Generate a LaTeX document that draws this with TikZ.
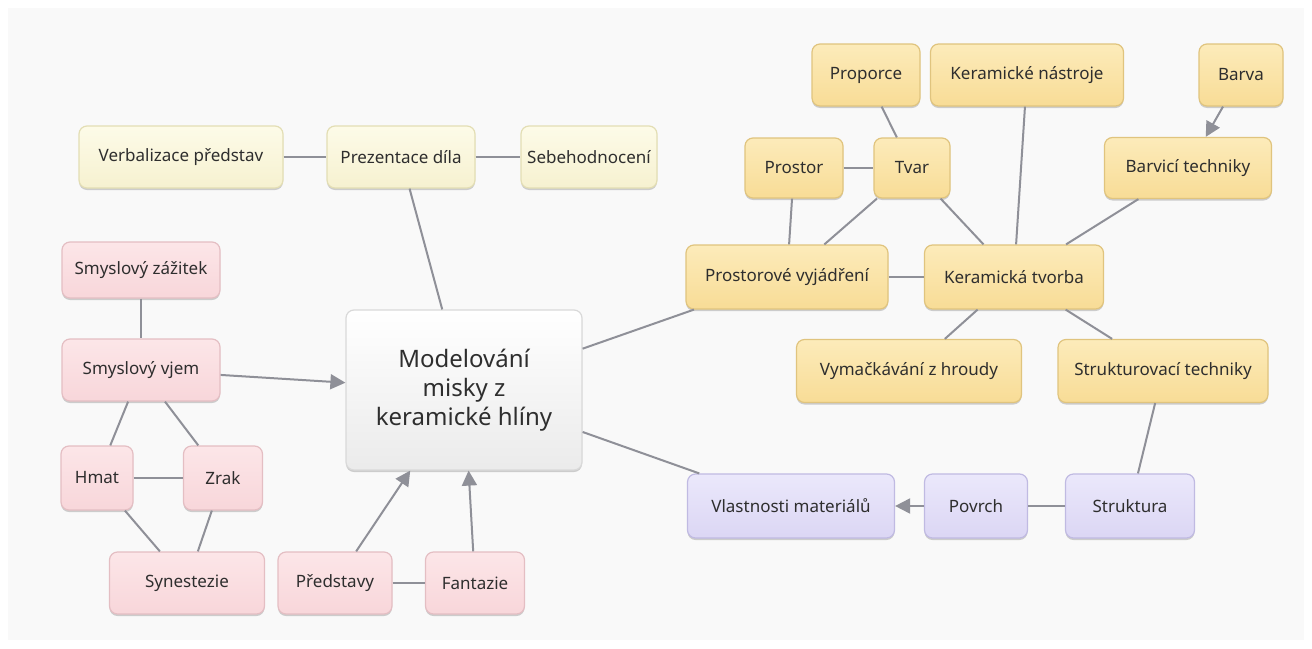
\documentclass[tikz,border=0pt]{standalone}
\usepackage{fontspec}
\setmainfont{Noto Sans}
\usetikzlibrary{arrows.meta,shadows}

\definecolor{linkgray}{HTML}{8F9098}
\definecolor{inktext}{HTML}{2E2E2E}
\definecolor{paletop}{HTML}{FDFBE8}
\definecolor{palebot}{HTML}{F6F1D0}
\definecolor{paleedge}{HTML}{E3DEB4}
\definecolor{goldtop}{HTML}{FCEBBA}
\definecolor{goldbot}{HTML}{F8DC96}
\definecolor{goldedge}{HTML}{E0C47E}
\definecolor{rosetop}{HTML}{FCE6E8}
\definecolor{rosebot}{HTML}{F8D6DA}
\definecolor{roseedge}{HTML}{E4BEC3}
\definecolor{lilactop}{HTML}{EBE8FB}
\definecolor{lilacbot}{HTML}{DBD6F4}
\definecolor{lilacedge}{HTML}{C0BAE2}

\tikzset{
  box/.style={draw, rounded corners=8pt, line width=1.2pt, minimum height=62pt,
    font=\fontsize{17}{20}\selectfont, text=inktext,
    drop shadow={shadow xshift=0pt, shadow yshift=-2pt, opacity=0.18, fill=black}},
  pale/.style={box, draw=paleedge, top color=paletop, bottom color=palebot},
  gold/.style={box, draw=goldedge, top color=goldtop, bottom color=goldbot},
  rose/.style={box, draw=roseedge, top color=rosetop, bottom color=rosebot},
  lilac/.style={box, draw=lilacedge, top color=lilactop, bottom color=lilacbot},
  hub/.style={box, draw=black!15, top color=white, bottom color=black!8,
    font=\fontsize{24}{29}\selectfont, align=center},
  link/.style={draw=linkgray, line width=2pt},
  flow/.style={link, -{Triangle[length=15pt,width=15pt]}}
}

\begin{document}
\begin{tikzpicture}[x=1pt,y=-1pt]
  \useasboundingbox (0,0) rectangle (1312,648);
  \fill [white] (0,0) rectangle (1312,648);
  \fill [black!2.5] (8,8) rectangle (1304,640);

  % centre
  \node [hub, minimum width=236pt, minimum height=160pt] (hub) at (464,390)
    {Modelování\\misky z\\keramické hlíny};

  % presentation row
  \node [pale, minimum width=204pt] (verbal) at (181,157) {Verbalizace představ};
  \node [pale, minimum width=148pt] (prez) at (401,157) {Prezentace díla};
  \node [pale, minimum width=136pt] (sebe) at (589,157) {Sebehodnocení};

  % senses
  \node [rose, minimum width=158pt, minimum height=56pt] (zazitek) at (141,270) {Smyslový zážitek};
  \node [rose, minimum width=158pt] (vjem) at (141,370) {Smyslový vjem};
  \node [rose, minimum width=72pt, minimum height=64pt] (hmat) at (97,478) {Hmat};
  \node [rose, minimum width=79pt, minimum height=64pt] (zrak) at (223,478) {Zrak};
  \node [rose, minimum width=155pt] (syn) at (187,583) {Synestezie};
  \node [rose, minimum width=114pt] (predst) at (335,583) {Představy};
  \node [rose, minimum width=99pt] (fant) at (475,583) {Fantazie};

  % material
  \node [lilac, minimum width=207pt, minimum height=64pt] (vlast) at (791,506) {Vlastnosti materiálů};
  \node [lilac, minimum width=103pt, minimum height=64pt] (povrch) at (976,506) {Povrch};
  \node [lilac, minimum width=129pt, minimum height=64pt] (strukt) at (1130,506) {Struktura};

  % ceramics
  \node [gold, minimum width=202pt, minimum height=64pt] (prostvyj) at (787,277) {Prostorové vyjádření};
  \node [gold, minimum width=179pt, minimum height=64pt] (kertv) at (1014,277) {Keramická tvorba};
  \node [gold, minimum width=225pt, minimum height=63pt] (vymack) at (909,371) {Vymačkávání z hroudy};
  \node [gold, minimum width=210pt, minimum height=63pt] (struktech) at (1163,371) {Strukturovací techniky};
  \node [gold, minimum width=98pt, minimum height=60pt] (prostor) at (794,168) {Prostor};
  \node [gold, minimum width=76pt, minimum height=60pt] (tvar) at (912,168) {Tvar};
  \node [gold, minimum width=108pt] (proporce) at (866,75) {Proporce};
  \node [gold, minimum width=193pt] (nastroje) at (1027,75) {Keramické nástroje};
  \node [gold, minimum width=84pt] (barva) at (1241,75) {Barva};
  \node [gold, minimum width=167pt, minimum height=61pt] (barvtech) at (1188,168) {Barvicí techniky};

  % links
  \draw [link] (verbal) -- (prez);
  \draw [link] (prez) -- (sebe);
  \draw [link] (prez) -- (hub);
  \draw [link] (zazitek) -- (vjem);
  \draw [flow] (vjem) -- (hub);
  \draw [link] (vjem) -- (hmat);
  \draw [link] (vjem) -- (zrak);
  \draw [link] (hmat) -- (zrak);
  \draw [link] (hmat) -- (syn);
  \draw [link] (zrak) -- (syn);
  \draw [flow] (predst) -- (hub);
  \draw [flow] (fant) -- (hub);
  \draw [link] (predst) -- (fant);
  \draw [link] (hub) -- (prostvyj);
  \draw [link] (hub) -- (vlast);
  \draw [flow] (povrch) -- (vlast);
  \draw [link] (strukt) -- (povrch);
  \draw [link] (struktech) -- (strukt);
  \draw [link] (prostvyj) -- (kertv);
  \draw [link] (kertv) -- (vymack);
  \draw [link] (kertv) -- (struktech);
  \draw [link] (kertv) -- (tvar);
  \draw [link] (kertv) -- (nastroje);
  \draw [link] (kertv) -- (barvtech);
  \draw [link] (prostvyj) -- (prostor);
  \draw [link] (prostvyj) -- (tvar);
  \draw [link] (prostor) -- (tvar);
  \draw [link] (tvar) -- (proporce);
  \draw [flow] (barva) -- (barvtech);
\end{tikzpicture}
\end{document}
